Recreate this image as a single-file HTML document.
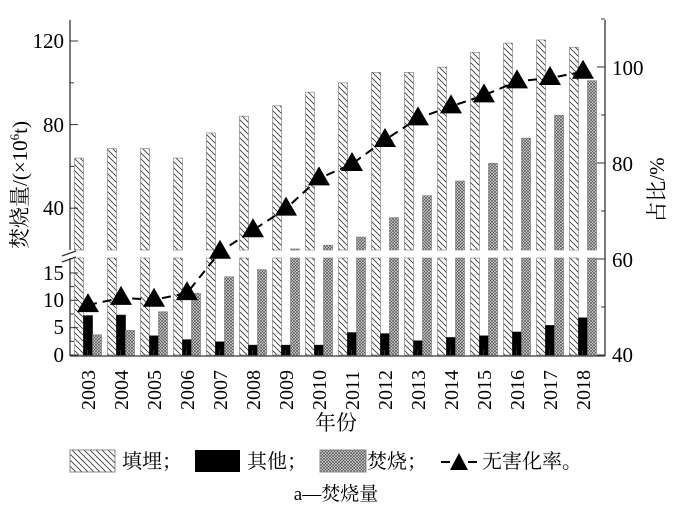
<!DOCTYPE html>
<html><head><meta charset="utf-8"><style>
html,body{margin:0;padding:0;background:#fff;}
svg{display:block;font-family:"Liberation Serif","Noto Serif CJK SC",serif;}
</style></head><body>
<svg width="681" height="507" viewBox="0 0 681 507" xmlns="http://www.w3.org/2000/svg" font-family="'Liberation Serif','Noto Serif CJK SC',serif">
<defs>
<pattern id="hatch" patternUnits="userSpaceOnUse" width="6" height="6">
<rect width="6" height="6" fill="#fff"/>
<path d="M-1,-1 L7,7 M-1,5 L1,7 M5,-1 L7,1" stroke="#333" stroke-width="0.8"/>
</pattern>
<pattern id="cross" patternUnits="userSpaceOnUse" width="3" height="3">
<rect width="3" height="3" fill="#ddd"/>
<path d="M0,0 L3,3 M3,0 L0,3" stroke="#555" stroke-width="0.7"/>
</pattern>
</defs>
<g id="bars"></g>
<g stroke="#333" stroke-width="1.3" fill="none">
<line x1="70" y1="20" x2="70" y2="250"/>
<line x1="70" y1="258" x2="70" y2="356"/>
<line x1="605" y1="20" x2="605" y2="356"/>
<line x1="70" y1="356" x2="605" y2="356"/>
<line x1="62" y1="256" x2="76" y2="251"/>
<line x1="62" y1="262" x2="76" y2="257"/>
</g>
<g id="ticks" stroke="#333" stroke-width="1"></g>
<g font-size="21" font-family="'Liberation Serif',serif">
<text x="64" y="48" text-anchor="end">120</text>
<text x="64" y="132" text-anchor="end">80</text>
<text x="64" y="215" text-anchor="end">40</text>
<text x="64" y="280" text-anchor="end">15</text>
<text x="64" y="307" text-anchor="end">10</text>
<text x="64" y="334" text-anchor="end">5</text>
<text x="64" y="362" text-anchor="end">0</text>
<text x="612" y="75">100</text>
<text x="612" y="171">80</text>
<text x="612" y="267">60</text>
<text x="612" y="362">40</text>
</g>
<text font-size="21" transform="translate(27,185) rotate(-90)" text-anchor="middle">焚烧量/(×10<tspan font-size="13" dy="-8">6</tspan><tspan dy="8">t)</tspan></text>
<text font-size="21" transform="translate(664,190) rotate(-90)" text-anchor="middle">占比/%</text>
<g id="xl" font-size="20" font-family="'Liberation Serif',serif"></g>
<text x="336" y="430" font-size="21" text-anchor="middle">年份</text>
<rect x="70" y="450" width="45" height="22" fill="url(#hatch)" stroke="#888"/>
<text x="122" y="468" font-size="20">填埋；</text>
<rect x="195" y="450" width="45" height="22" fill="#000"/>
<text x="247" y="468" font-size="20">其他；</text>
<rect x="320" y="450" width="46" height="22" fill="url(#cross)" stroke="#888"/>
<text x="367" y="468" font-size="20">焚烧；</text>
<line x1="441" y1="462" x2="450" y2="462" stroke="#000" stroke-width="2"/>
<line x1="468" y1="462" x2="477" y2="462" stroke="#000" stroke-width="2"/>
<polygon points="459,453 468,470 450,470" fill="#000"/>
<text x="482" y="468" font-size="20">无害化率。</text>
<text x="336" y="500" font-size="19" text-anchor="middle">a—焚烧量</text>
<g id="line"></g>
<script>
const NS="http://www.w3.org/2000/svg";
function el(p,t,a){const e=document.createElementNS(NS,t);for(const k in a)e.setAttribute(k,a[k]);p.appendChild(e);return e;}
const L=[64,68.5,68.5,64,76,84,89,95.5,100,105,105,107.5,114.5,119,120.5,117];
const O=[7.2,7.3,3.5,2.8,2.4,1.8,1.8,1.8,4.1,3.9,2.6,3.2,3.5,4.2,5.4,6.8];
const I=[3.7,4.5,7.9,11.3,14.3,15.6,20.5,22.3,26.2,35.5,46,53,61.5,73.5,84.5,101];
const R=[50.4,51.9,51.5,52.9,61.5,66,70.5,76.8,79.8,84.8,89.3,91.8,94.1,97.0,97.7,99.0];
function y(v){ if(v<=17.7) return 355-v*5.47; return 41+(120-v)*2.09;}
function yr(v){return 355-(v-40)*4.8;}
const b=document.getElementById('bars');
function bar(x,v,fill,stroke){
 if(v<=17.7){el(b,'rect',{x:x,y:y(v),width:9,height:355-y(v),fill:fill,stroke:stroke,'stroke-width':0.6});}
 else{el(b,'rect',{x:x,y:258,width:9,height:97,fill:fill,stroke:stroke,'stroke-width':0.6});
 el(b,'rect',{x:x,y:y(v),width:9,height:250-y(v),fill:fill,stroke:stroke,'stroke-width':0.6});}
}
const xl=document.getElementById('xl');
let pts=[];
for(let i=0;i<16;i++){
 const x0=74.5+33*i;
 bar(x0,L[i],'url(#hatch)','#777');
 bar(x0+9,O[i],'#000','#000');
 bar(x0+18,I[i],'url(#cross)','#777');
 const cx=x0+13.5;
 const t=el(xl,'text',{transform:`translate(${cx+7},${410}) rotate(-90)`});t.textContent=2003+i;
 pts.push([cx,yr(R[i])]);
}
const ln=document.getElementById('line');
el(ln,'polyline',{points:pts.map(p=>p.join(',')).join(' '),fill:'none',stroke:'#000','stroke-width':2,'stroke-dasharray':'9,6'});
pts.forEach(p=>el(ln,'polygon',{points:`${p[0]},${p[1]-12} ${p[0]+11},${p[1]+7} ${p[0]-11},${p[1]+7}`,fill:'#000'}));
const tk=document.getElementById('ticks');
[[120,8],[100,4],[80,8],[60,4],[40,8]].forEach(([v,l])=>el(tk,'line',{x1:70,x2:70+l,y1:y(v),y2:y(v)}));
for(let v=0;v<=15;v+=2.5)el(tk,'line',{x1:70,x2:70+(v%5==0?8:4),y1:y(v),y2:y(v)});
for(let v=40;v<=110;v+=10)el(tk,'line',{x1:605,x2:605-(v%20==0?8:4),y1:yr(v),y2:yr(v)});
for(let i=0;i<16;i++){el(tk,'line',{x1:87.5+33*i,x2:87.5+33*i,y1:356,y2:350});}
</script>
</svg>
</body></html>
